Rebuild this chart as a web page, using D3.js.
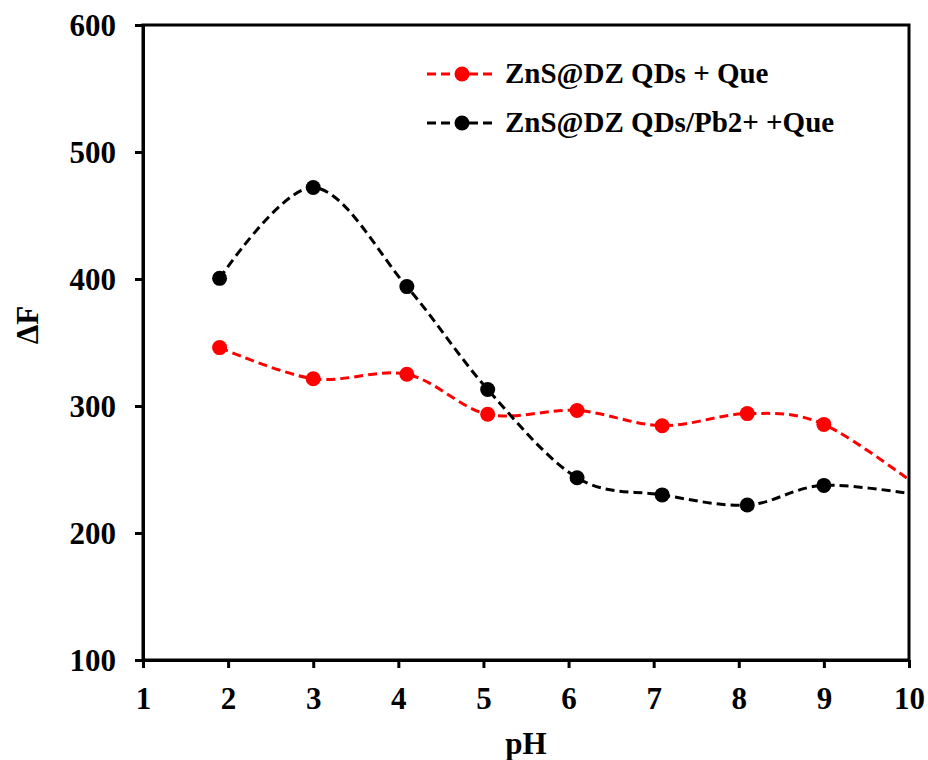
<!DOCTYPE html>
<html><head><meta charset="utf-8">
<script src="https://cdn.jsdelivr.net/npm/d3@7"></script>
<style>body{margin:0;background:#fff;} text{font-family:"Liberation Serif","Times New Roman",serif;font-weight:bold;}</style>
</head><body>
<svg id="c" width="928" height="760"></svg>
<script>
const pH = [1.9, 3.0, 4.1, 5.05, 6.1, 7.1, 8.1, 9.0, 10.2];
const seriesRed = [346, 321.5, 325, 293.5, 296.5, 284.5, 294, 285.5, 232];
const seriesBlack = [400.5, 472, 394, 313, 243.5, 230, 222, 237.5, 229];
const seriesNames = ["ZnS@DZ QDs + Que", "ZnS@DZ QDs/Pb2+ +Que"];
const seriesColors = ["#ff0000", "#000000"];
const xTicks = [1,2,3,4,5,6,7,8,9,10];
const yTicks = [100,200,300,400,500,600];

const svg = d3.select("#c");
const L = 143, R = 909, T = 25, B = 660;
const x = d3.scaleLinear().domain([1,10]).range([L,R]);
const y = d3.scaleLinear().domain([100,600]).range([B,T]);

svg.append("defs").append("clipPath").attr("id","clip")
  .append("rect").attr("x",L).attr("y",T-10).attr("width",R-L).attr("height",B-T+10);

const series = [
  {vals: seriesRed, color: seriesColors[0], name: seriesNames[0]},
  {vals: seriesBlack, color: seriesColors[1], name: seriesNames[1]}
];
const line = d3.line().x(d=>x(d[0])).y(d=>y(d[1])).curve(d3.curveCatmullRom.alpha(0));
const g = svg.append("g").attr("clip-path","url(#clip)");
series.forEach(s=>{
  const pts = pH.map((p,i)=>[p,s.vals[i]]);
  g.append("path").attr("d",line(pts)).attr("fill","none").attr("stroke",s.color)
    .attr("stroke-width",3).attr("stroke-dasharray","9,5");
  g.selectAll(null).data(pts).enter().append("circle")
    .attr("cx",d=>x(d[0])).attr("cy",d=>y(d[1])).attr("r",7.5).attr("fill",s.color);
});

// frame
svg.append("rect").attr("x",L).attr("y",T).attr("width",R-L).attr("height",B-T)
  .attr("fill","none").attr("stroke","#000").attr("stroke-width",3);

const xAxis = svg.append("g").attr("transform",`translate(0,${B})`)
  .call(d3.axisBottom(x).tickValues(xTicks).tickSize(8).tickSizeOuter(0).tickFormat(d3.format("d")));
const yAxis = svg.append("g").attr("transform",`translate(${L},0)`)
  .call(d3.axisLeft(y).tickValues(yTicks).tickSize(8).tickSizeOuter(0).tickFormat(d3.format("d")));
[xAxis,yAxis].forEach(a=>{
  a.select(".domain").attr("stroke","#000").attr("stroke-width",3);
  a.selectAll(".tick line").attr("stroke","#000").attr("stroke-width",3);
  a.selectAll(".tick text").attr("fill","#000").style("font-size","31px")
   .style("font-family","'Liberation Serif',serif").style("font-weight","bold");
});
xAxis.selectAll(".tick text").attr("dy",null).attr("y",49);
yAxis.selectAll(".tick text").attr("x",-27).attr("dy","0.34em");

svg.append("text").attr("x",526).attr("y",754).attr("text-anchor","middle")
  .style("font-size","31px").text("pH");
svg.append("text").attr("transform","translate(38,325) rotate(-90)").attr("text-anchor","middle")
  .style("font-size","31px").text("ΔF");

// legend
const lg = svg.append("g");
series.forEach((s,i)=>{
  const yy = 74 + i*49;
  lg.append("line").attr("x1",427).attr("x2",497).attr("y1",yy).attr("y2",yy)
    .attr("stroke",s.color).attr("stroke-width",3).attr("stroke-dasharray","9,5");
  lg.append("circle").attr("cx",462).attr("cy",yy).attr("r",7.5).attr("fill",s.color);
  lg.append("text").attr("x",505).attr("y",yy+9).style("font-size","29px").text(s.name);
});
</script>
</body></html>
